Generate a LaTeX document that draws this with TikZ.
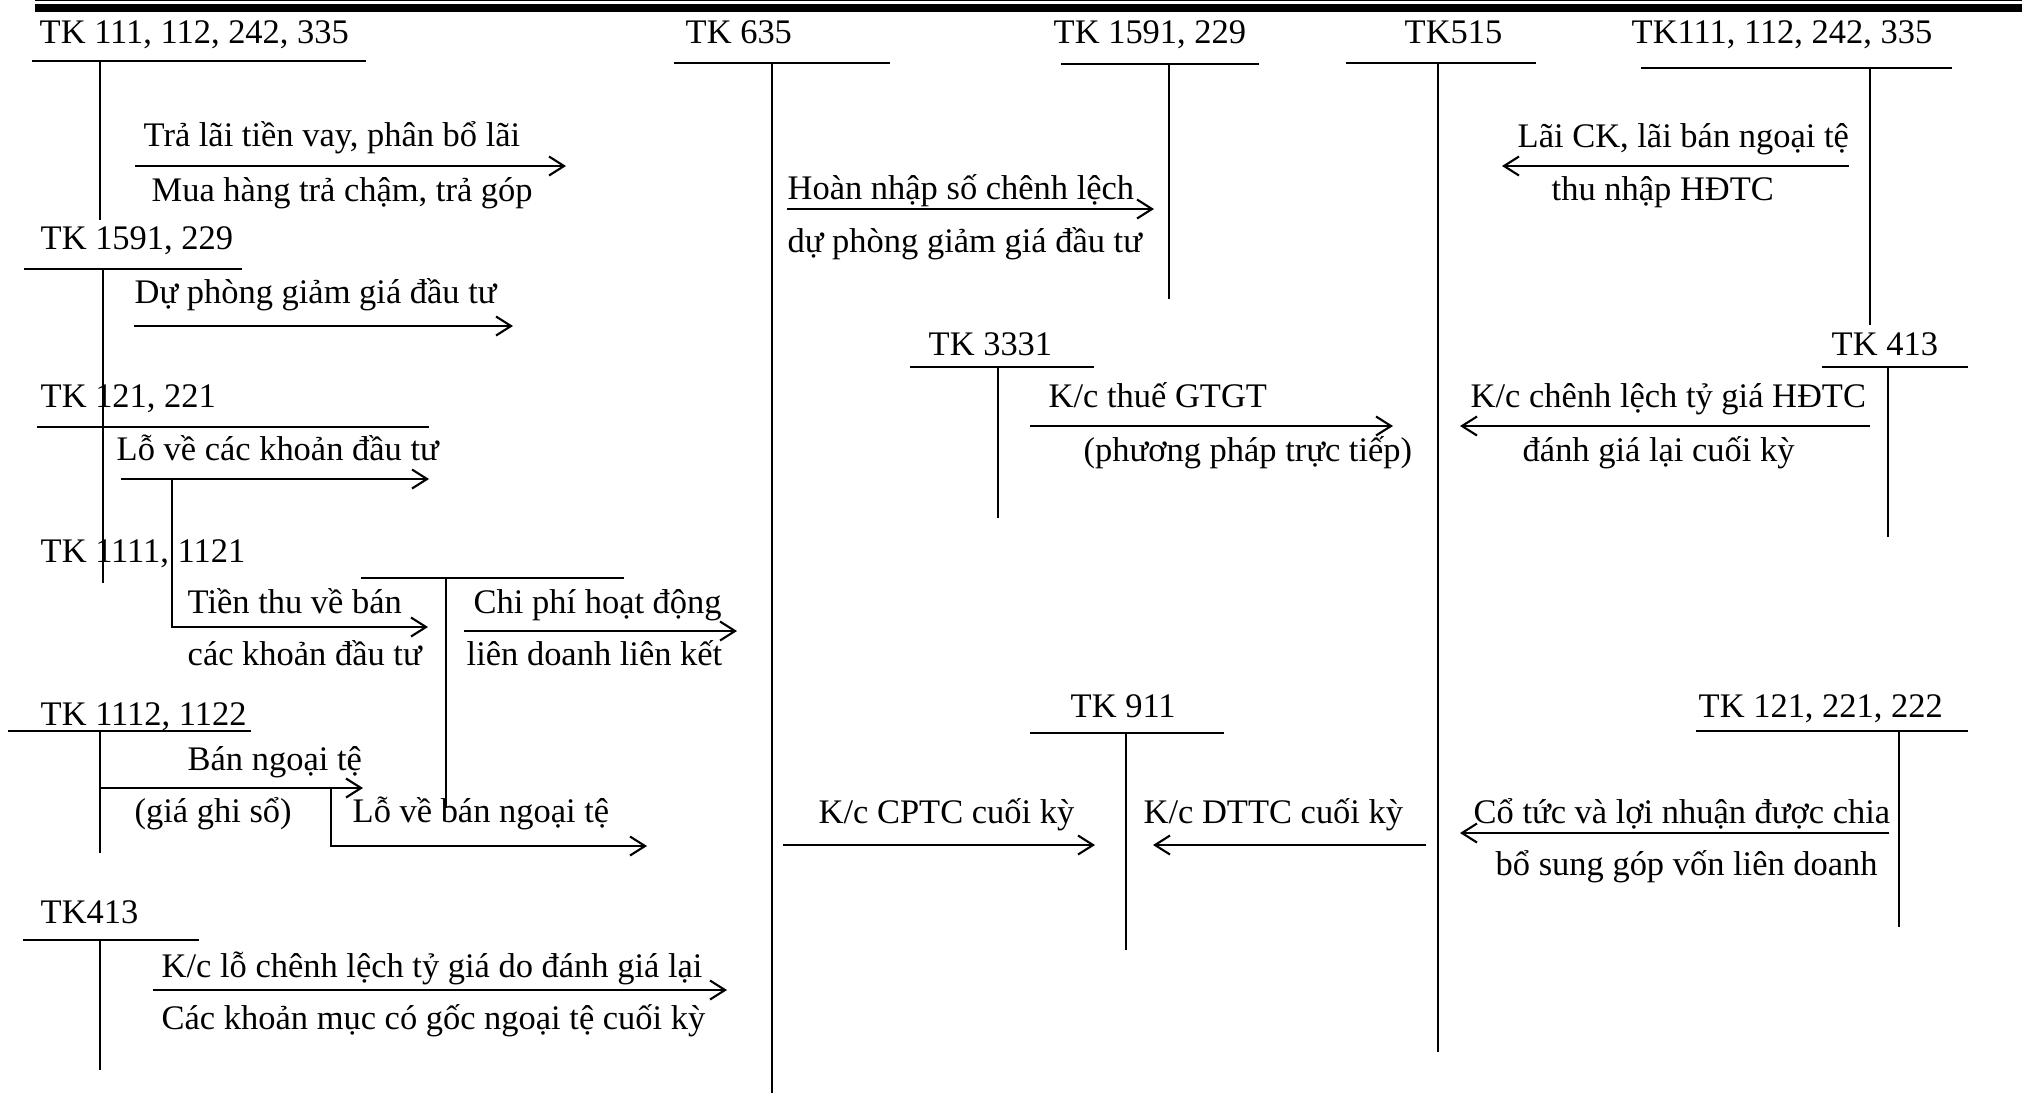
\documentclass[tikz,border=0pt]{standalone}
\usepackage{fontspec}
\setmainfont{Liberation Serif}
\usetikzlibrary{arrows.meta}

\begin{document}
\begin{tikzpicture}[x=0.01cm, y=-0.01cm,
    every node/.style={inner sep=0pt, anchor=base west,
        font=\fontsize{9.8}{12}\selectfont},
    rule/.style={line width=0.8pt},
    stem/.style={line width=0.6pt},
    flow/.style={line width=0.6pt,
        -{Straight Barb[length=1.5mm, width=1.9mm]}}]
\useasboundingbox (0,0) rectangle (2022,1093);
% bar at the top
\fill (35,0) rectangle (2022,1);
\fill (35,4) rectangle (2022,12);

% accounts: name/label/label x/label y/rule from/rule to/rule y/stem x/stem end
\foreach \n/\t/\lx/\ly/\ra/\rb/\ry/\sx/\sy in {
    tka/{TK 111, 112, 242, 335}/39/43/32/366/61/100/220,
    tkb/{TK 1591, 229}/40/249/24/242/269/103/427,
    tkc/{TK 121, 221}/40/407/37/429/427/103/583,
    tke/{TK 1112, 1122}/40/725/8/251/731/100/853,
    tkf/{TK413}/40/923/23/199/940/100/1070,
    tkg/{TK 635}/685/43/674/890/63/772/1093,
    tkh/{TK 1591, 229}/1053/43/1061/1259/64/1169/299,
    tki/{TK515}/1404/43/1346/1536/63/1438/1052,
    tkj/{TK111, 112, 242, 335}/1631/43/1641/1952/68/1870/325,
    tkk/{TK 3331}/928/355/910/1094/367/998/518,
    tkl/{TK 413}/1831/355/1822/1968/367/1888/537,
    tkm/{TK 911}/1070/717/1030/1224/733/1126/950,
    tkn/{TK 121, 221, 222}/1698/717/1696/1968/731/1899/927}
{
    \node (\n) at (\lx,\ly) {\t};
    \draw[rule] (\ra,\ry) -- (\rb,\ry);
    \draw[stem] (\sx,\ry) -- (\sx,\sy);
}
\node (tkd) at (40,562) {TK 1111, 1121};
\draw[rule] (361,578) -- (624,578);
\draw[stem] (446,578) -- (446,808);

% straight entries
\foreach \n/\xa/\xb/\y in {a1/135/566/166, a2/134/513/326, a3/121/429/479,
    a5/464/737/631, a6/100/363/788, a8/153/727/990, a9/787/1154/209,
    a10/1849/1502/166, a11/1030/1393/426, a12/1870/1460/426,
    a13/783/1095/845, a14/1426/1153/845, a15/1889/1460/833}
{
    \coordinate (\n-s) at (\xa,\y);
    \coordinate (\n-e) at (\xb,\y);
    \draw[flow] (\n-s) -- (\n-e);
}
% bent entries
\coordinate (a4-s) at (172,479);
\coordinate (a4-e) at (428,627);
\draw[flow] (a4-s) |- (a4-e);
\coordinate (a7-s) at (331,788);
\coordinate (a7-e) at (647,846);
\draw[flow] (a7-s) |- (a7-e);

% texts on the entries
\foreach \n/\t/\x/\y in {
    d1/{Trả lãi tiền vay, phân bổ lãi}/143/146,
    d2/{Mua hàng trả chậm, trả góp}/151/201,
    d3/{Dự phòng giảm giá đầu tư}/134/303,
    d4/{Lỗ về các khoản đầu tư}/116/460,
    d5/{Tiền thu về bán}/187/613,
    d6/{các khoản đầu tư}/187/665,
    d7/{Chi phí hoạt động}/473/613,
    d8/{liên doanh liên kết}/466/665,
    d9/{Bán ngoại tệ}/187/770,
    d10/{(giá ghi sổ)}/134/822,
    d11/{Lỗ về bán ngoại tệ}/352/822,
    d12/{K/c lỗ chênh lệch tỷ giá do đánh giá lại}/161/977,
    d13/{Các khoản mục có gốc ngoại tệ cuối kỳ}/161/1029,
    d14/{Hoàn nhập số chênh lệch}/787/199,
    d15/{dự phòng giảm giá đầu tư}/787/252,
    d16/{Lãi CK, lãi bán ngoại tệ}/1517/147,
    d17/{thu nhập HĐTC}/1551/200,
    d18/{K/c thuế GTGT}/1048/407,
    d19/{(phương pháp trực tiếp)}/1083/461,
    d20/{K/c chênh lệch tỷ giá HĐTC}/1470/407,
    d21/{đánh giá lại cuối kỳ}/1522/461,
    d22/{K/c CPTC cuối kỳ}/818/823,
    d23/{K/c DTTC cuối kỳ}/1143/823,
    d24/{Cổ tức và lợi nhuận được chia}/1473/823,
    d25/{bổ sung góp vốn liên doanh}/1495/875}
    \node (\n) at (\x,\y) {\t};
\end{tikzpicture}
\end{document}
